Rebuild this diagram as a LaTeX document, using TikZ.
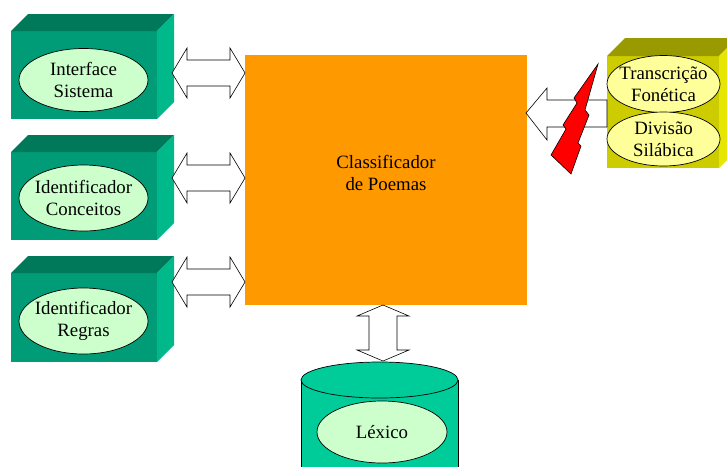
\documentclass[tikz,border=0pt]{standalone}
\usepackage{fontspec}
\setmainfont{Liberation Serif}
\usetikzlibrary{shapes.geometric}
\definecolor{gfront}{HTML}{009B77}
\definecolor{gtop}{HTML}{00785A}
\definecolor{gside}{HTML}{00B98A}
\definecolor{lgreen}{HTML}{CCFFCC}
\definecolor{cylcol}{HTML}{00CC99}
\definecolor{orng}{HTML}{FF9900}
\definecolor{yfront}{HTML}{CCCC00}
\definecolor{ytop}{HTML}{999900}
\definecolor{yside}{HTML}{E6E600}
\definecolor{lyellow}{HTML}{FFFF99}
\newcommand\boxthree[8]{% x1 y1 x2 y2 d front top side
  \fill[#6] (#1,#2) rectangle (#3,#4);
  \fill[#7] (#1,#2) -- ++(#5,-#5) -- (#3+#5,#2-#5) -- (#3,#2) -- cycle;
  \fill[#8] (#3,#2) -- ++(#5,-#5) -- (#3+#5,#4-#5) -- (#3,#4) -- cycle;
}
\newcommand\hdarrow[3]{% xl xr yc
  \draw[blockarrow] (#1,#3) -- (#1+15,#3-25) -- (#1+15,#3-13) -- (#2-15,#3-13) -- (#2-15,#3-25)
   -- (#2,#3) -- (#2-15,#3+25) -- (#2-15,#3+13) -- (#1+15,#3+13) -- (#1+15,#3+25) -- cycle;
}
\begin{document}
\begin{tikzpicture}[x=1pt,y=-1pt,
  lbl/.style={font=\fontsize{18.8}{22}\selectfont, align=center, text=black},
  inell/.style={ellipse, draw=black, line width=0.7pt, inner sep=0pt},
  blockarrow/.style={draw=black, fill=white, line width=0.6pt, line join=miter}]
\useasboundingbox (0,0) rectangle (727,466);
\clip (0,0) rectangle (727,466);
\fill[white] (0,0) rectangle (727,466);
% left boxes
\boxthree{11}{31}{157}{119}{17}{gfront}{gtop}{gside}
\boxthree{11}{152}{157}{240}{17}{gfront}{gtop}{gside}
\boxthree{11}{273}{157}{362}{17}{gfront}{gtop}{gside}
\node[inell, fill=lgreen, minimum width=129pt, minimum height=63pt] (iface) at (83.5,80) {};
\node[lbl] at (iface.center) {Interface\\Sistema};
\node[inell, fill=lgreen, minimum width=129pt, minimum height=66pt] (conc) at (83.5,198) {};
\node[lbl] at (conc.center) {Identificador\\Conceitos};
\node[inell, fill=lgreen, minimum width=129pt, minimum height=66pt] (regr) at (83.5,321) {};
\node[lbl] at (regr.center) {Identificador\\Regras};
% main box
\node[fill=orng, minimum width=282pt, minimum height=250pt, inner sep=0pt, anchor=north west] (main) at (245,55) {};
\node[lbl] (maintext) at (386,173) {Classificador\\de Poemas};
% double arrows
\hdarrow{172}{245}{73}
\hdarrow{172}{245}{178}
\hdarrow{172}{245}{282}
% vertical double arrow
\draw[blockarrow] (383,305) -- (409,316) -- (397,316) -- (397,350) -- (409,350) -- (383,361)
  -- (357,350) -- (369,350) -- (369,316) -- (357,316) -- cycle;
% cylinder
\draw[fill=cylcol, line width=0.7pt] (301,380) -- (301,520) -- (458,520) -- (458,380);
\draw[fill=cylcol, line width=0.7pt] (379.5,380) ellipse [x radius=78.5, y radius=18];
\node[inell, fill=lgreen, minimum width=130pt, minimum height=62pt] (lex) at (382,432) {};
\node[lbl] at (lex.center) {Léxico};
% yellow box
\boxthree{607}{56}{719}{168}{18}{yfront}{ytop}{yside}
\node[inell, fill=lyellow, minimum width=113pt, minimum height=57pt] (trans) at (663.5,84) {};
\node[lbl] at (trans.center) {Transcrição\\Fonética};
\node[inell, fill=lyellow, minimum width=113pt, minimum height=54pt] (div) at (663.5,139) {};
\node[lbl] at (div.center) {Divisão\\Silábica};
% single arrow
\draw[blockarrow] (526,113) -- (547,88) -- (547,100) -- (607,100) -- (607,127) -- (547,127) -- (547,140) -- cycle;
% lightning
\draw[fill=red, line width=0.6pt, line join=miter] (598,64) -- (574,98) -- (577,103) -- (563,125) -- (566,129)
  -- (551,155) -- (571,174) -- (581,146) -- (578,143) -- (589,115) -- (585,110) -- cycle;
\end{tikzpicture}
\end{document}
